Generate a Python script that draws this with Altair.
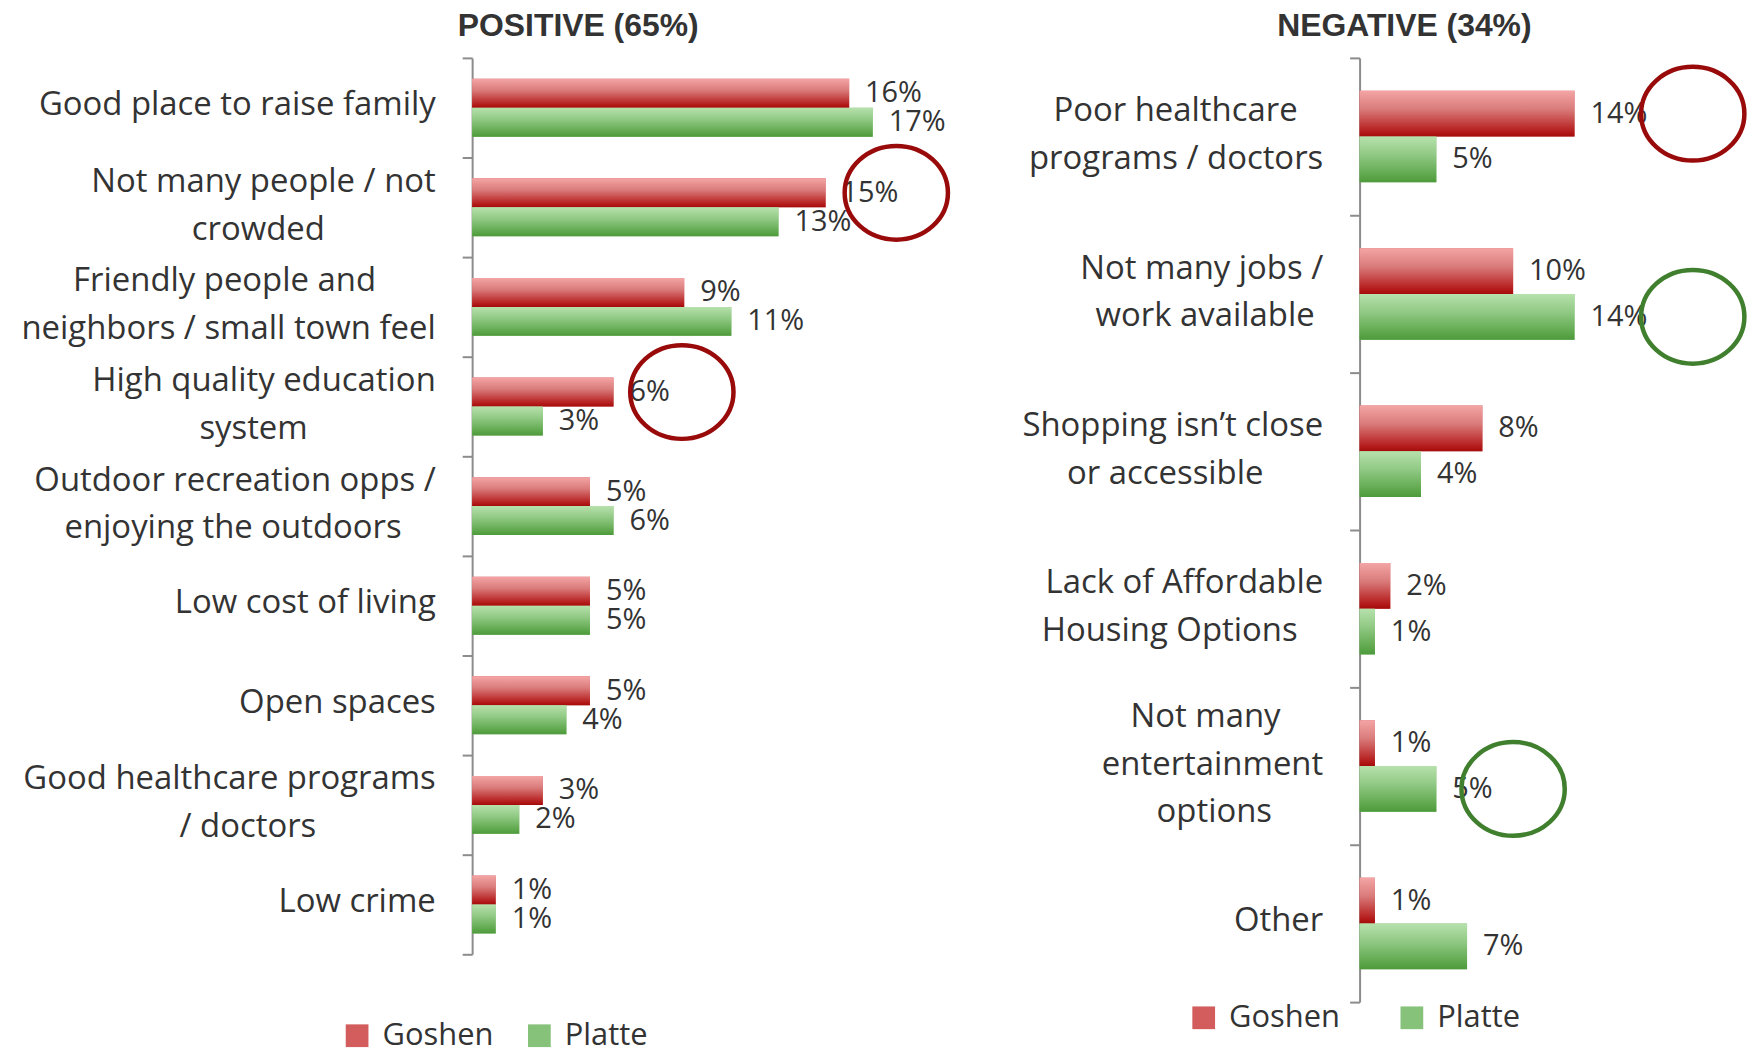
import altair as alt
import pandas as pd

# ---------------- data ----------------
series = ["Goshen", "Platte"]
series_colors = ["#d35c5c", "#86c27a"]

pos_categories = [
    "Good place to raise family",
    "Not many people / not|crowded",
    "Friendly people and|neighbors / small town feel",
    "High quality education|system",
    "Outdoor recreation opps /|enjoying the outdoors",
    "Low cost of living",
    "Open spaces",
    "Good healthcare programs|/ doctors",
    "Low crime",
]
pos_goshen = [16, 15, 9, 6, 5, 5, 5, 3, 1]
pos_platte = [17, 13, 11, 3, 6, 5, 4, 2, 1]

neg_categories = [
    "Poor healthcare|programs / doctors",
    "Not many jobs /|work available",
    "Shopping isn\u2019t close|or accessible",
    "Lack of Affordable|Housing Options",
    "Not many|entertainment|options",
    "Other",
]
neg_goshen = [14, 10, 8, 2, 1, 1]
neg_platte = [5, 14, 4, 1, 5, 7]

# annotation rings (category, series, x position in %, colour)
pos_ring_categories = [pos_categories[1], pos_categories[3]]
pos_ring_series = ["Goshen", "Goshen"]
pos_ring_x = [18.0, 8.9]
pos_ring_colors = ["#990a0a", "#990a0a"]

neg_ring_categories = [neg_categories[0], neg_categories[1], neg_categories[4]]
neg_ring_series = ["Goshen", "Platte", "Platte"]
neg_ring_x = [21.7, 21.7, 10.0]
neg_ring_colors = ["#990a0a", "#3f7f2e", "#3f7f2e"]

# ---------------- styles ----------------
FONT = "Open Sans"
TXT = "#333333"
ELLIPSE = "M -1.08 0 A 1.08 0.98 0 1 1 1.08 0 A 1.08 0.98 0 1 1 -1.08 0 Z"

red_grad = alt.LinearGradient(
    gradient="linear", x1=0, x2=0, y1=0, y2=1,
    stops=[
        alt.GradientStop(color="#f4a5a5", offset=0),
        alt.GradientStop(color="#da7b7b", offset=0.4),
        alt.GradientStop(color="#b41a1a", offset=0.9),
        alt.GradientStop(color="#a30b0b", offset=1),
    ],
)
green_grad = alt.LinearGradient(
    gradient="linear", x1=0, x2=0, y1=0, y2=1,
    stops=[
        alt.GradientStop(color="#b7e1ac", offset=0),
        alt.GradientStop(color="#90c984", offset=0.4),
        alt.GradientStop(color="#58a345", offset=0.9),
        alt.GradientStop(color="#4d993b", offset=1),
    ],
)

LINES3 = "length(split(datum.value, '|')) == 3"
LINES2 = "length(split(datum.value, '|')) == 2"

# label expression: split on '|' and roughly centre the shorter lines of a
# multi-line label by padding them with no-break spaces (closed by a
# zero-width space so that the padding is not trimmed away)
S = "split(datum.label, '|')"
NB = "\u00a0"
ZW = "\u200b"


def _len(i):
    return f"(length({S}) > {i} ? length({S}[{i}]) : 0)"


_MAX = f"max({_len(0)}, {_len(1)}, {_len(2)})"


def _line(i):
    return (f"pad({S}[{i}], {_len(i)} + round(({_MAX} - {_len(i)}) * 0.93), '{NB}', 'right')"
            f" + '{ZW}'")


LABEL_EXPR = (
    f"length({S}) == 1 ? datum.label : "
    f"(length({S}) == 2 ? [{_line(0)}, {_line(1)}] : [{_line(0)}, {_line(1)}, {_line(2)}])"
)


def panel(cats, g, p, ring_cats, ring_series, ring_x, ring_colors,
          title, title_dx, width, height, xmax, axis_extent,
          legend_x, legend_y, legend_gap):
    n = len(cats)
    df = pd.DataFrame({
        "category": cats * 2,
        "series": ["Goshen"] * n + ["Platte"] * n,
        "value": g + p,
    })
    rings = pd.DataFrame({
        "category": ring_cats,
        "series": ring_series,
        "x": ring_x,
        "ring": ring_colors,
    })

    y = alt.Y(
        "category:N", sort=cats, title=None,
        scale=alt.Scale(paddingInner=0, paddingOuter=0),
        axis=alt.Axis(
            labelExpr=LABEL_EXPR,
            labelFont=FONT, labelFontSize=33, labelColor=TXT,
            labelLineHeight=48, labelLimit=0, labelPadding=27,
            labelAlign="right", labelBaseline="middle",
            labelOffset={"condition": [{"test": LINES3, "value": -50},
                                       {"test": LINES2, "value": -26}],
                         "value": -3},
            tickBand="extent", tickSize=10, tickWidth=2, tickColor="#8c8c8c",
            domainColor="#8c8c8c", domainWidth=2,
            minExtent=axis_extent, maxExtent=axis_extent,
            grid=False,
        ),
    )
    yoff = alt.YOffset("series:N", sort=series,
                       scale=alt.Scale(paddingInner=0, paddingOuter=0.72))
    x = alt.X("value:Q", axis=None, scale=alt.Scale(domain=[0, xmax], nice=False))

    base = alt.Chart(df).encode(y=y, yOffset=yoff, x=x)

    legend_bars = base.mark_bar().encode(
        color=alt.Color(
            "series:N",
            scale=alt.Scale(domain=series, range=series_colors),
            legend=alt.Legend(
                orient="none", legendX=legend_x, legendY=legend_y,
                direction="horizontal", title=None,
                symbolType="square", symbolSize=520, symbolStrokeWidth=0,
                labelFont=FONT, labelFontSize=31, labelColor=TXT,
                labelOffset=10, columnPadding=legend_gap,
            ),
        )
    )
    red = base.transform_filter("datum.series == 'Goshen'").mark_bar(color=red_grad)
    green = base.transform_filter("datum.series == 'Platte'").mark_bar(color=green_grad)
    labels = base.transform_calculate(label="datum.value + '%'").mark_text(
        align="left", baseline="middle", dx=16,
        font=FONT, fontSize=29, color=TXT,
    ).encode(text="label:N")

    ring = alt.Chart(rings).mark_point(
        shape=ELLIPSE, size=9216, filled=False, strokeWidth=4.5, opacity=1,
    ).encode(
        y=alt.Y("category:N", sort=cats),
        yOffset=alt.YOffset("series:N", sort=series),
        x=alt.X("x:Q"),
        stroke=alt.Stroke("ring:N", scale=None),
    )

    return alt.layer(legend_bars, red, green, labels, ring).properties(
        width=width, height=height,
        title=alt.Title(
            title, font="Liberation Sans", fontSize=32, fontWeight="bold",
            color=TXT, anchor="middle", frame="group", dx=title_dx, offset=-1,
        ),
    )


left = panel(pos_categories, pos_goshen, pos_platte,
             pos_ring_categories, pos_ring_series, pos_ring_x, pos_ring_colors,
             "POSITIVE (65%)", -136, 485, 900, 20.5, 466, -131, 966, 30)
right = panel(neg_categories, neg_goshen, neg_platte,
              neg_ring_categories, neg_ring_series, neg_ring_x, neg_ring_colors,
              "NEGATIVE (34%)", -150, 390, 948, 25.3, 404, -172, 948, 56)

chart = (
    alt.hconcat(left, right, spacing=0)
    .resolve_scale(x="independent", y="independent", yOffset="independent", color="independent")
    .resolve_legend(color="independent")
    .properties(padding={"left": 0, "top": 0, "right": 0, "bottom": 0})
    .configure(background="white")
    .configure_view(stroke=None)
)

chart.save("out.html", embed_options={"renderer": "svg", "actions": False})
